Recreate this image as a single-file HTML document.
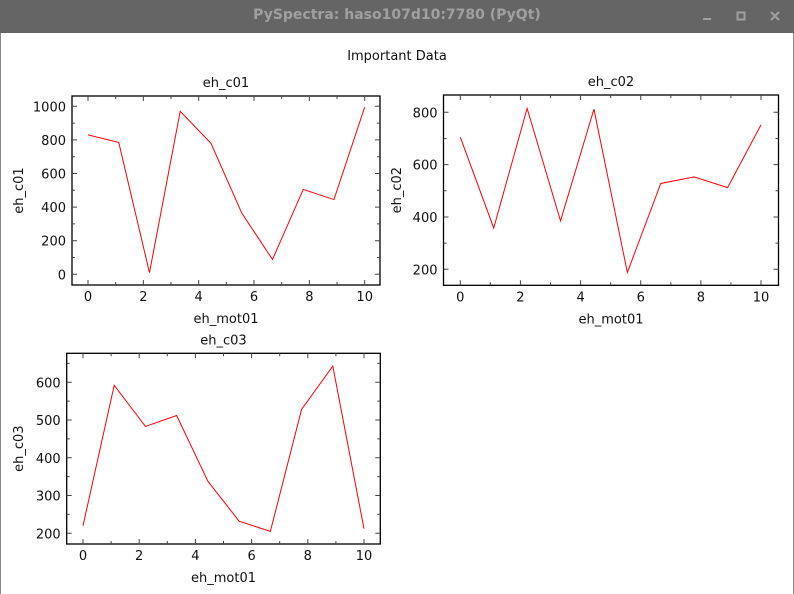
<!DOCTYPE html>
<html><head><meta charset="utf-8"><style>
body{margin:0;width:794px;height:594px;background:#fff;overflow:hidden;font-family:"DejaVu Sans","Liberation Sans",sans-serif;}
#bar{position:absolute;left:0;top:0;width:794px;height:33px;background:#656565;}
#bar .t{position:absolute;left:0;width:794px;top:7px;text-align:center;color:#a0a0a0;font-weight:bold;font-size:14px;}
svg{position:absolute;left:0;top:0}
</style></head><body>
<div id="bar">
<div class="t">PySpectra: haso107d10:7780 (PyQt)</div>
</div>
<svg id="c" width="794" height="594">
<line x1="0.5" y1="33" x2="0.5" y2="594" stroke="#888"/>
<line x1="793.5" y1="33" x2="793.5" y2="594" stroke="#888"/>
<g><rect x="703" y="18" width="8" height="2" fill="#a0a0a0"/></g>
<g><rect x="737.5" y="12.5" width="7" height="7" fill="none" stroke="#a0a0a0" stroke-width="2"/></g>
<g><path d="M771 12L779 20M779 12L771 20" stroke="#a0a0a0" stroke-width="2"/></g>
<text x="397" y="60" text-anchor="middle" font-size="13" fill="#111">Important Data</text>
</svg>
<script>
const xValues=[0,1.111,2.222,3.333,4.444,5.556,6.667,7.778,8.889,10];
const c01Values=[830,785,10,970,780,365,88,505,445,995];
const c02Values=[705,358,815,385,812,188,528,553,512,752];
const c03Values=[220,592,483,512,338,232,205,528,643,212];
const xTicks=[0,2,4,6,8,10];
const c01Ticks=[0,200,400,600,800,1000];
const c02Ticks=[200,400,600,800];
const c03Ticks=[200,300,400,500,600];
const svg=document.getElementById('c');
const NS='http://www.w3.org/2000/svg';
function mk(t,a,p){const e=document.createElementNS(NS,t);for(const k in a)e.setAttribute(k,a[k]);p.appendChild(e);return e;}
function plot(o){
 const g=mk('g',{},svg);
 
 
 const sx=v=>o.x0+(v-0)*(o.x10-o.x0)/10;
 const sy=v=>o.ya+(v-o.va)*(o.yb-o.ya)/(o.vb-o.va);
 const {L,R,T,B}=o;
 const fr=mk('rect',{x:L,y:T,width:R-L,height:B-T,fill:'none',stroke:'#000','stroke-width':1.3},g);
 
 
 for(let v=0;v<=10;v++){const x=sx(v),len=v%2?3:5;
  mk('path',{d:`M${x} ${B}v${-len}M${x} ${T}v${len}`,stroke:'#444','stroke-width':1},g);}
 xTicks.forEach(v=>{const t=mk('text',{x:sx(v),y:B+16,'text-anchor':'middle','font-size':13,fill:'#111'},g);t.textContent=v;
  });
 const st=o.ticks[1]-o.ticks[0];
 for(let v=o.ticks[0]-st;v<=o.ticks[o.ticks.length-1]+st;v+=st/2){const y=sy(v);if(y<T||y>B)continue;
  const len=(Math.round(v/st*2)%2)?3:5;
  mk('path',{d:`M${L} ${y}h${len}M${R} ${y}h${-len}`,stroke:'#444','stroke-width':1},g);}
 o.ticks.forEach(v=>{const t=mk('text',{x:L-6,y:sy(v)+5,'text-anchor':'end','font-size':13,fill:'#111'},g);t.textContent=v;
  });
 const tt=mk('text',{x:(L+R)/2,y:T-9,'text-anchor':'middle','font-size':13,fill:'#111'},g);tt.textContent=o.name;
 
 if(o.xl){const xl=mk('text',{x:(L+R)/2,y:B+38,'text-anchor':'middle','font-size':13,fill:'#111'},g);xl.textContent='eh_mot01';
 }
 const yx=o.ylx,yy=(T+B)/2;
 const yl=mk('text',{x:yx,y:yy,'text-anchor':'middle','font-size':13,fill:'#111',transform:`rotate(-90 ${yx} ${yy})`},g);yl.textContent=o.name;
 
 const pts=xValues.map((x,i)=>sx(x).toFixed(2)+','+sy(o.vals[i]).toFixed(2)).join(' ');
 const ln=mk('polyline',{points:pts,fill:'none',stroke:'#f00','stroke-width':1},g);
 
}
plot({name:'eh_c01',L:72,R:380,T:96,B:285,x0:88,x10:364.7,va:0,ya:274.3,vb:1000,yb:106.3,ticks:c01Ticks,vals:c01Values,xl:true,ylx:23});
plot({name:'eh_c02',L:443.5,R:778.5,T:95,B:285.3,x0:460.3,x10:761,va:200,ya:269.3,vb:800,yb:112.3,ticks:c02Ticks,vals:c02Values,xl:true,ylx:401});
plot({name:'eh_c03',L:66.7,R:380.3,T:353.3,B:544,x0:83,x10:364,va:200,ya:533.3,vb:600,yb:382.3,ticks:c03Ticks,vals:c03Values,xl:true,ylx:23});
</script>
</body></html>
